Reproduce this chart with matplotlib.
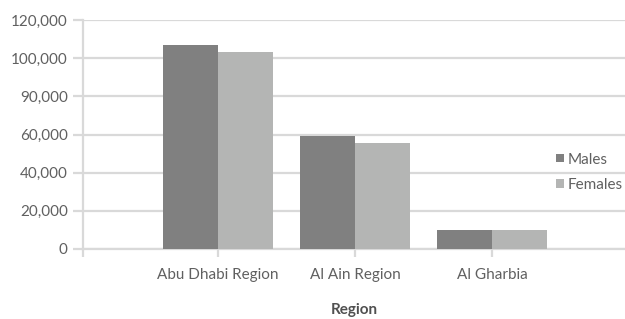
import numpy as np
import matplotlib
matplotlib.use('Agg')
import matplotlib.pyplot as plt

regions = ['Abu Dhabi Region', 'Al Ain Region', 'Al Gharbia']
males = [106900, 59000, 10000]
females = [103200, 55600, 10000]
ytick_vals = [0, 20000, 40000, 60000, 80000, 100000, 120000]
ytick_labels = ['0', '20,000', '40,000', '60,000', '90,000', '100,000', '120,000']

plt.rcParams['font.family'] = ['Lato', 'DejaVu Sans']
grid_col = '#d9d9d9'
text_col = '#606060'

fig = plt.figure(figsize=(6.25, 3.19), dpi=100)
ax = fig.add_axes([83 / 625, 70 / 319, 542 / 625, 229 / 319])

x = np.arange(len(regions))
w = 0.4
ax.bar(x - w / 2, males, w, color='#808080', label='Males', zorder=3)
ax.bar(x + w / 2, females, w, color='#b4b5b4', label='Females', zorder=3)

ax.set_ylim(0, 120000)
ax.set_xlim(-0.985, 2.97)
ax.set_yticks(ytick_vals)
ax.set_yticklabels(ytick_labels)
ax.set_xticks(list(x))
ax.set_xticklabels(regions)
ax.set_xticks([-0.985], minor=True)
ax.yaxis.grid(True, color=grid_col, linewidth=1.6, zorder=0)
ax.set_axisbelow(True)

for s in ['top', 'right']:
    ax.spines[s].set_visible(False)
for s in ['left', 'bottom']:
    ax.spines[s].set_color(grid_col)
    ax.spines[s].set_linewidth(1.6)

fs = 11
ax.tick_params(axis='y', length=7, width=1.6, color=grid_col, labelcolor=text_col,
               labelsize=fs, pad=4)
ax.tick_params(axis='x', which='both', length=6, width=1.6, color=grid_col,
               labelcolor=text_col, labelsize=fs, pad=8)

ax.set_xlabel('Region', fontsize=fs, fontweight='bold', color='#505050', labelpad=15)

ax.legend(loc='center left', bbox_to_anchor=(0.873, 0.335), frameon=False,
          fontsize=fs, labelcolor=text_col, handlelength=0.5, handleheight=0.5,
          handletextpad=0.25, labelspacing=0.75, borderaxespad=0, borderpad=0)

fig.savefig('out.png', dpi=100)
